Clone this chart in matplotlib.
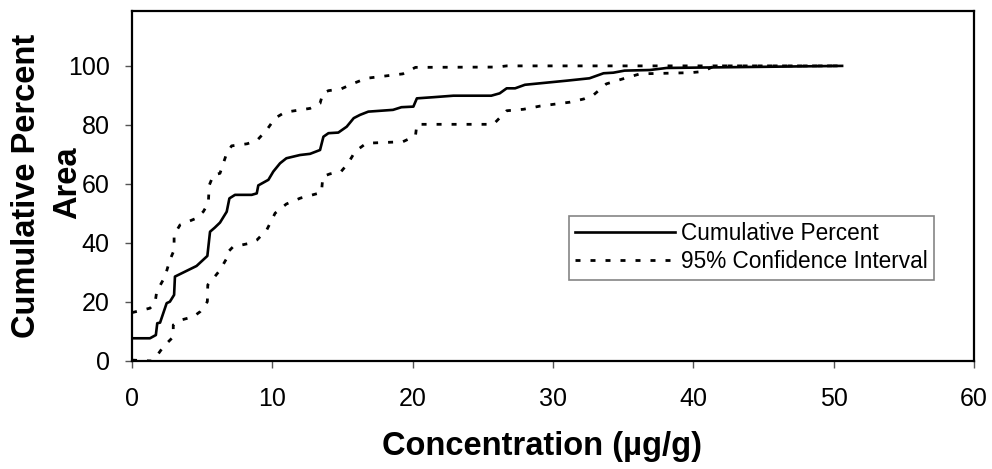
import matplotlib
matplotlib.use("Agg")
import matplotlib.pyplot as plt

# Cumulative percent curve
cum_x = [0, 1.28, 1.7, 1.8, 2.0, 2.47, 2.7, 3.0, 3.06, 4.6, 5.37, 5.56, 5.9, 6.27, 6.75, 6.94,
         7.34, 8.53, 8.89, 9.0, 9.72, 10.07, 10.55, 11.0, 11.97, 12.69, 13.4, 13.64, 14.0, 14.7,
         15.3, 15.8, 16.25, 16.84, 18.6, 19.2, 20.05, 20.3, 21.5, 22.9, 25.6, 26.2, 26.7, 27.3,
         28.0, 31.0, 32.6, 33.6, 34.3, 35.1, 36.9, 38.1, 50.6]
cum_y = [7.7, 7.7, 8.8, 12.8, 13.0, 19.6, 20.1, 22.4, 28.6, 32.2, 35.6, 43.8, 45.2, 46.9, 50.6, 55.1,
         56.3, 56.3, 56.8, 59.5, 61.4, 64.2, 67.0, 68.7, 69.8, 70.2, 71.5, 76.0, 77.2, 77.4,
         79.4, 82.3, 83.4, 84.5, 85.1, 86.0, 86.2, 89.0, 89.4, 89.9, 89.9, 90.7, 92.4, 92.4,
         93.6, 95.0, 95.8, 97.5, 97.7, 98.4, 98.6, 99.3, 100]

# Upper 95% confidence bound
upper_x = [0, 1.28, 1.64, 1.76, 2.35, 2.7, 3.0, 3.0, 3.42, 4.6, 5.08, 5.44, 5.5, 5.8, 6.27, 6.75,
           7.1, 8.2, 8.9, 9.6, 10.2, 10.9, 12.69, 13.4, 13.6, 14.0, 14.9, 15.8, 16.7, 19.3,
           20.2, 26.0, 26.7, 50.6]
upper_y = [16.4, 17.9, 19.6, 23.5, 28.6, 34.2, 37.6, 42.7, 46.1, 48.4, 50.6, 53.5, 59.5, 63.0, 63.6,
           70.4, 72.9, 73.6, 74.7, 78.3, 82.3, 84.3, 85.6, 87.3, 90.7, 91.6, 92.2, 94.1, 95.8,
           97.3, 99.5, 99.6, 100, 100]

# Lower 95% confidence bound
lower_x = [0, 1.4, 1.64, 2.23, 2.94, 2.94, 3.5, 4.37, 4.85, 5.37, 5.4, 5.9, 6.27, 6.75, 6.75, 7.2,
           8.4, 8.9, 9.6, 10.2, 11.0, 12.0, 13.5, 13.6, 14.1, 14.9, 15.4, 15.9, 16.7, 19.3, 20.2,
           20.3, 25.75, 26.7, 27.9, 29.1, 31.2, 32.2, 32.9, 33.8, 34.9, 35.4, 36.2, 39.8, 40.7,
           41.5, 50.6]
lower_y = [0.3, 0.0, 0.9, 4.8, 8.2, 12.2, 13.9, 15.0, 16.7, 20.1, 25.8, 28.6, 30.8, 34.8, 36.5, 38.7,
           39.9, 41.0, 44.4, 50.1, 53.2, 55.2, 57.1, 62.5, 63.4, 64.2, 67.0, 71.0, 73.8, 74.3, 76.3,
           80.2, 80.2, 84.8, 85.3, 86.4, 87.7, 88.8, 90.2, 93.9, 95.5, 96.2, 97.3, 97.7, 98.1,
           100, 100]

x_ticks = [0, 10, 20, 30, 40, 50, 60]
y_ticks = [0, 20, 40, 60, 80, 100]

plt.rcParams['font.family'] = ['Liberation Sans', 'DejaVu Sans']

W, H = 992, 469
fig = plt.figure(figsize=(W / 100, H / 100), dpi=100)
ax = fig.add_axes([132 / W, 1 - 361 / H, (974 - 132) / W, (361 - 11) / H])

dash = (0, (1.8, 3.6))
ax.plot(cum_x, cum_y, color='black', lw=1.9, label='Cumulative Percent')
ax.plot(upper_x, upper_y, color='black', lw=2.0, linestyle=dash, label='95% Confidence Interval')
ax.plot(lower_x, lower_y, color='black', lw=2.0, linestyle=dash)

ax.set_xlim(0, 60)
ax.set_ylim(0, 118.6)
ax.set_xticks(x_ticks)
ax.set_yticks(y_ticks)
ax.tick_params(axis='both', direction='out', length=5, width=1, color='#555555',
               labelsize=18, labelcolor='black')
ax.tick_params(axis='x', pad=14)
ax.tick_params(axis='y', pad=11)
for s in ax.spines.values():
    s.set_linewidth(1.6)
    s.set_color('black')

leg = ax.legend(loc='upper left', bbox_to_anchor=(569 / W, 1 - 216 / H),
                bbox_transform=fig.transFigure, borderaxespad=0, fontsize=16.3,
                handlelength=4.4, handletextpad=0.25, labelspacing=0.22,
                borderpad=0.28, frameon=True, fancybox=False)
leg.get_frame().set_edgecolor('#666666')
leg.get_frame().set_linewidth(1.2)

fig.text(542 / W, 1 - 446 / H, 'Concentration (µg/g)', ha='center', va='center',
         fontsize=23.5, fontweight='bold')
fig.text(27 / W, 1 - 186 / H, 'Cumulative Percent', ha='center', va='center',
         rotation=90, fontsize=23.5, fontweight='bold')
fig.text(68 / W, 1 - 183 / H, 'Area', ha='center', va='center',
         rotation=90, fontsize=23.5, fontweight='bold')

fig.savefig('out.png', dpi=100)
